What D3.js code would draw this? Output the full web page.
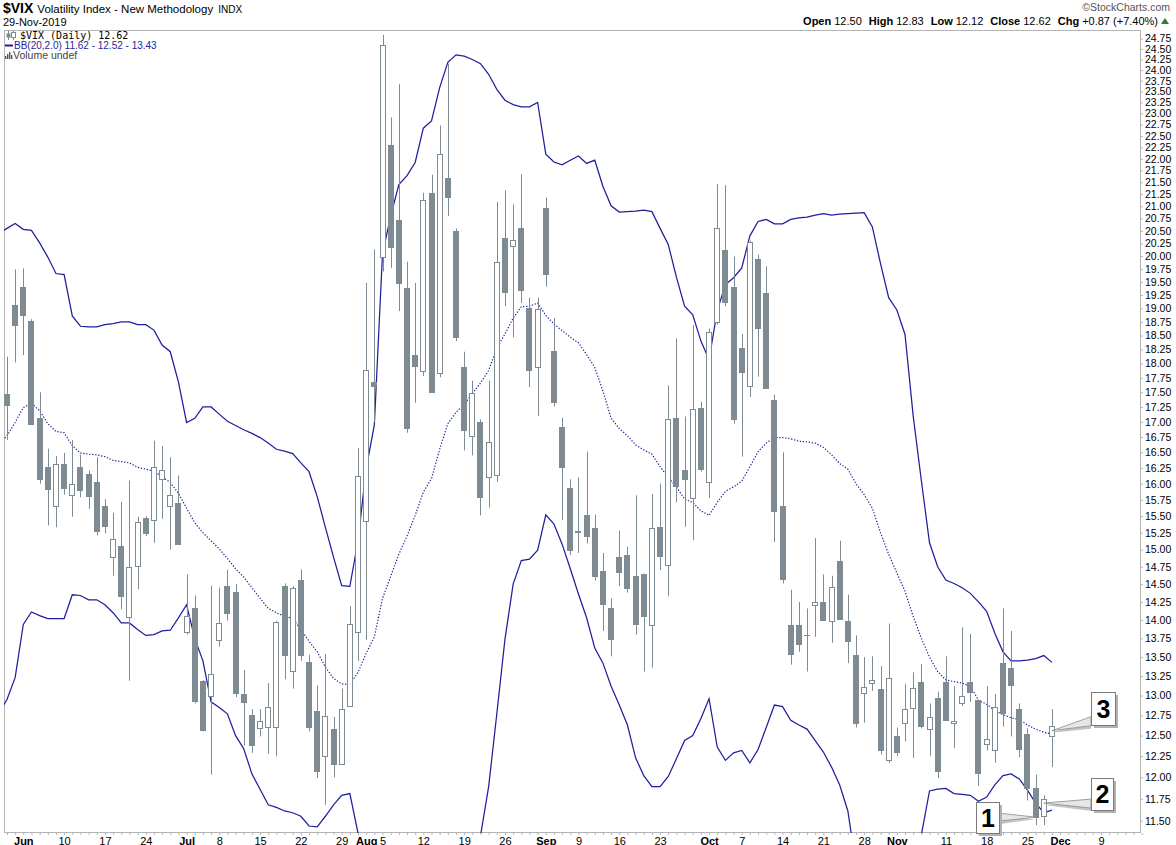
<!DOCTYPE html>
<html><head><meta charset="utf-8">
<script src="https://cdn.jsdelivr.net/npm/d3@7"></script>
<style>
body{margin:0;background:#fff;}
svg{display:block;font-family:"Liberation Sans",Arial,sans-serif;}
</style></head><body>
<svg id="chart" width="1176" height="845"></svg>
<script>
// ---------- DATA ----------
const dates = [
"2019-05-29","2019-05-30","2019-05-31",
"2019-06-03","2019-06-04","2019-06-05","2019-06-06","2019-06-07","2019-06-10","2019-06-11","2019-06-12","2019-06-13","2019-06-14","2019-06-17","2019-06-18","2019-06-19","2019-06-20","2019-06-21","2019-06-24","2019-06-25","2019-06-26","2019-06-27","2019-06-28",
"2019-07-01","2019-07-02","2019-07-03","2019-07-05","2019-07-08","2019-07-09","2019-07-10","2019-07-11","2019-07-12","2019-07-15","2019-07-16","2019-07-17","2019-07-18","2019-07-19","2019-07-22","2019-07-23","2019-07-24","2019-07-25","2019-07-26","2019-07-29","2019-07-30","2019-07-31",
"2019-08-01","2019-08-02","2019-08-05","2019-08-06","2019-08-07","2019-08-08","2019-08-09","2019-08-12","2019-08-13","2019-08-14","2019-08-15","2019-08-16","2019-08-19","2019-08-20","2019-08-21","2019-08-22","2019-08-23","2019-08-26","2019-08-27","2019-08-28","2019-08-29","2019-08-30",
"2019-09-03","2019-09-04","2019-09-05","2019-09-06","2019-09-09","2019-09-10","2019-09-11","2019-09-12","2019-09-13","2019-09-16","2019-09-17","2019-09-18","2019-09-19","2019-09-20","2019-09-23","2019-09-24","2019-09-25","2019-09-26","2019-09-27","2019-09-30",
"2019-10-01","2019-10-02","2019-10-03","2019-10-04","2019-10-07","2019-10-08","2019-10-09","2019-10-10","2019-10-11","2019-10-14","2019-10-15","2019-10-16","2019-10-17","2019-10-18","2019-10-21","2019-10-22","2019-10-23","2019-10-24","2019-10-25","2019-10-28","2019-10-29","2019-10-30","2019-10-31",
"2019-11-01","2019-11-04","2019-11-05","2019-11-06","2019-11-07","2019-11-08","2019-11-11","2019-11-12","2019-11-13","2019-11-14","2019-11-15","2019-11-18","2019-11-19","2019-11-20","2019-11-21","2019-11-22","2019-11-25","2019-11-26","2019-11-27","2019-11-29"];

const futureDates = ["2019-12-02","2019-12-03","2019-12-04","2019-12-05","2019-12-06","2019-12-09","2019-12-10","2019-12-11","2019-12-12","2019-12-13","2019-12-16"];

const open = [17.60,17.47,19.06,
19.41,18.76,17.06,16.26,15.65,16.31,15.83,16.26,16.16,16.02,15.65,14.89,15.05,14.04,14.76,15.47,15.44,16.08,15.66,15.70,
13.84,14.17,13.19,12.99,13.73,14.47,14.39,13.02,12.76,12.59,12.61,12.61,14.47,13.32,14.56,13.43,12.80,12.25,12.58,12.16,12.87,13.84,
15.42,17.68,19.98,22.31,20.72,19.38,18.16,17.87,21.28,17.83,21.59,20.49,17.94,16.77,17.00,16.10,16.14,20.36,20.20,20.55,19.01,17.94,
20.97,18.23,16.92,15.93,15.26,15.52,15.32,14.69,14.16,14.89,14.92,14.61,14.65,13.93,15.34,14.77,17.06,16.22,15.78,17.23,
16.02,18.75,20.11,19.41,18.27,17.61,19.94,19.29,17.36,15.65,13.93,13.93,13.80,14.20,14.25,13.99,14.83,13.98,13.53,13.03,13.16,13.09,12.20,
12.50,12.65,12.84,13.18,12.58,12.97,13.17,12.65,12.91,13.17,12.95,12.40,12.33,13.42,13.36,12.83,12.52,11.88,11.55,12.50];

const high = [18.40,18.12,19.74,
19.76,18.80,17.50,16.56,16.44,16.49,16.70,16.46,16.21,16.42,15.76,15.55,15.72,16.05,15.49,15.50,16.69,16.60,16.42,16.13,
14.64,14.34,13.20,14.48,14.45,14.71,14.50,13.33,12.83,12.83,13.16,13.99,14.51,14.47,14.71,13.53,13.13,13.54,12.73,13.09,14.19,16.57,
19.48,20.13,24.84,22.91,23.67,19.89,19.48,21.28,21.66,22.73,24.15,20.55,18.21,17.70,17.04,17.70,21.09,21.33,21.04,21.67,19.20,19.20,
21.18,18.82,17.07,16.07,16.10,16.51,15.52,14.95,14.30,15.28,15.04,15.82,14.65,15.84,16.00,17.62,18.45,17.09,18.69,17.34,
18.63,21.46,21.44,19.99,18.53,20.30,20.03,19.80,17.46,16.50,14.42,14.25,14.16,15.17,14.64,14.62,15.13,14.35,13.79,13.50,13.51,13.38,13.95,
12.60,13.15,13.30,13.41,12.90,13.05,13.51,13.12,13.90,13.81,12.95,13.12,13.02,14.16,13.85,12.90,12.59,12.03,11.79,12.83];

const low = [17.30,16.70,18.02,
18.15,16.95,16.00,15.36,15.33,15.83,15.49,15.79,15.61,15.21,15.24,14.62,14.15,13.19,14.43,15.20,15.10,15.46,15.00,15.07,
13.80,12.90,12.55,12.03,13.64,13.99,12.98,12.38,12.29,12.49,12.28,12.25,13.21,13.09,13.45,12.55,11.99,11.68,12.00,12.16,12.87,13.45,
13.73,16.99,19.70,19.77,18.95,16.82,17.32,17.78,17.50,17.76,20.80,18.40,16.53,16.45,15.51,15.63,16.03,19.04,18.47,19.10,17.59,17.10,
19.41,17.26,15.44,14.92,14.95,15.09,14.55,13.85,13.51,14.47,14.38,13.80,13.31,13.36,14.70,14.33,15.71,15.34,15.14,16.19,
15.78,18.70,19.04,16.97,16.43,17.42,17.77,17.56,15.11,14.51,13.40,13.57,13.31,13.77,13.99,13.69,14.00,13.42,12.60,12.66,13.06,12.27,12.17,
12.25,12.43,12.23,12.59,12.25,11.99,12.69,12.35,12.87,12.92,11.90,12.32,12.17,12.61,12.49,12.24,11.73,11.45,11.45,12.12];

const close = [17.90,17.29,18.70,
18.87,16.97,16.07,15.92,16.31,15.93,15.99,15.90,15.81,15.28,15.35,15.15,14.33,14.75,15.41,15.25,16.27,16.21,15.82,15.08,
14.06,12.93,12.57,13.28,13.96,14.09,13.03,12.92,12.39,12.68,12.86,13.97,13.53,14.45,13.53,12.61,12.07,12.74,12.16,12.83,13.95,16.12,
17.89,17.61,24.59,20.18,19.48,16.90,17.96,21.12,17.51,22.11,21.19,18.47,16.87,17.49,15.79,16.67,19.88,19.31,20.32,19.34,17.88,18.98,
19.66,17.33,16.27,15.00,15.27,15.20,14.61,14.22,13.74,14.67,14.44,13.95,14.05,15.32,14.91,17.05,15.96,16.07,17.22,16.24,
18.56,20.56,19.12,17.04,17.86,20.28,18.64,17.57,15.58,14.57,13.54,13.68,13.79,14.25,14.00,14.46,14.01,13.71,12.65,13.11,13.20,12.33,13.22,
12.30,12.83,13.10,12.62,12.73,12.07,12.69,12.68,13.00,13.05,12.05,12.46,12.86,12.78,13.14,12.34,11.87,11.54,11.75,12.62];

const bbUpper = [20.44,20.55,20.65,
20.53,20.51,20.26,19.98,19.66,19.64,18.86,18.67,18.66,18.66,18.70,18.72,18.75,18.75,18.70,18.70,18.60,18.33,18.21,17.68,
16.99,17.06,17.25,17.25,17.13,17.01,16.94,16.87,16.81,16.74,16.65,16.55,16.52,16.48,16.33,16.19,15.80,15.33,14.89,14.48,14.47,15.13,
16.24,16.95,20.05,20.80,21.45,21.64,21.92,22.67,22.83,23.59,24.18,24.36,24.33,24.25,24.15,23.90,23.55,23.30,23.20,23.15,23.15,23.25,
22.10,21.93,21.87,21.97,22.06,21.90,21.97,21.41,21.01,20.88,20.89,20.90,20.92,20.89,20.55,20.23,19.59,19.04,18.88,18.40,
18.07,18.96,19.45,19.58,19.77,20.40,20.69,20.73,20.64,20.64,20.73,20.76,20.78,20.82,20.85,20.82,20.84,20.85,20.86,20.87,20.58,19.85,19.20,
18.97,18.52,17.10,16.05,15.10,14.75,14.56,14.51,14.45,14.37,14.25,14.12,13.82,13.57,13.45,13.45,13.46,13.48,13.52,13.43];

const bbMiddle = [16.62,16.77,16.99,
17.24,17.31,17.19,16.97,16.84,16.82,16.61,16.49,16.47,16.46,16.43,16.37,16.35,16.33,16.26,16.23,16.20,16.11,16.02,15.85,
15.62,15.40,15.25,15.13,15.01,14.87,14.72,14.60,14.45,14.30,14.16,14.10,14.05,14.02,13.87,13.71,13.57,13.37,13.22,13.15,13.14,13.30,
13.55,13.77,14.30,14.61,14.93,15.20,15.51,15.87,16.08,16.55,16.97,17.16,17.29,17.48,17.66,17.88,18.27,18.53,18.82,19.03,19.04,19.10,
18.87,18.71,18.59,18.47,18.37,18.16,17.93,17.52,17.06,16.89,16.77,16.62,16.54,16.47,16.27,16.10,15.95,15.76,15.71,15.58,
15.51,15.71,15.88,15.95,16.04,16.27,16.51,16.65,16.74,16.74,16.72,16.68,16.67,16.65,16.58,16.46,16.32,16.23,16.00,15.83,15.62,15.25,14.93,
14.66,14.40,14.05,13.75,13.50,13.31,13.20,13.18,13.16,13.12,12.94,12.89,12.81,12.76,12.72,12.70,12.63,12.58,12.54,12.52];

const bbLower = [12.78,12.95,13.23,
13.94,14.11,14.06,14.02,14.02,14.02,14.35,14.34,14.28,14.28,14.21,14.10,13.96,13.96,13.87,13.79,13.80,13.85,13.86,14.03,
14.21,13.75,13.45,12.92,12.85,12.77,12.50,12.34,12.04,11.86,11.68,11.65,11.61,11.59,11.55,11.44,11.43,11.55,11.68,11.79,11.81,11.36,
10.85,10.54,8.58,8.35,8.40,8.60,8.80,9.00,9.30,9.50,9.80,10.20,10.60,10.90,11.33,11.89,12.77,13.74,14.50,14.84,14.86,14.99,
15.52,15.38,15.08,14.72,14.36,14.03,13.62,13.42,13.12,12.88,12.63,12.23,12.02,11.89,11.89,12.01,12.22,12.44,12.50,12.71,
12.96,12.36,12.20,12.29,12.32,12.17,12.33,12.60,12.88,12.86,12.69,12.63,12.58,12.44,12.30,12.12,11.91,11.61,11.00,10.80,10.60,10.55,10.56,
10.30,10.25,10.87,11.34,11.84,11.86,11.87,11.81,11.80,11.79,11.72,11.77,11.91,12.02,12.04,11.98,11.85,11.70,11.59,11.62];

const xTickDates  = ["2019-06-03","2019-06-10","2019-06-17","2019-06-24","2019-07-01","2019-07-08","2019-07-15","2019-07-22","2019-07-29","2019-08-01","2019-08-05","2019-08-12","2019-08-19","2019-08-26","2019-09-03","2019-09-09","2019-09-16","2019-09-23","2019-10-01","2019-10-07","2019-10-14","2019-10-21","2019-10-28","2019-11-01","2019-11-11","2019-11-18","2019-11-25","2019-12-02","2019-12-09"];
const xTickLabels = ["Jun","10","17","24","Jul","8","15","22","29","Aug","5","12","19","26","Sep","9","16","23","Oct","7","14","21","28","Nov","11","18","25","Dec","9"];
const monthLabels = ["Jun","Jul","Aug","Sep","Oct","Nov","Dec"];

const yTickLabels = ["11.50","11.75","12.00","12.25","12.50","12.75","13.00","13.25","13.50","13.75","14.00","14.25","14.50","14.75","15.00","15.25","15.50","15.75","16.00","16.25","16.50","16.75","17.00","17.25","17.50","17.75","18.00","18.25","18.50","18.75","19.00","19.25","19.50","19.75","20.00","20.25","20.50","20.75","21.00","21.25","21.50","21.75","22.00","22.25","22.50","22.75","23.00","23.25","23.50","23.75","24.00","24.25","24.50","24.75"];

// callouts: date, price anchor, label
const calloutDates  = ["2019-11-26","2019-11-27","2019-11-29"];
const calloutPrices = [11.54, 11.70, 12.56];
const calloutLabels = ["1","2","3"];

// ---------- LAYOUT ----------
const svg = d3.select("#chart");
const plot = {left:4, top:30, right:1141, bottom:833};
const candleColor = "#7f8b93";
const bandColor = "#1f1f9c";

const allDays = dates.concat(futureDates);
const x = d3.scaleLinear().domain([0, allDays.length-1]).range([-1.19, -1.19 + 8.164*(allDays.length-1)]);
const y = d3.scaleLog().domain([11.362, 24.96]).range([plot.bottom, plot.top]);
const xi = d => allDays.indexOf(d);

svg.append("defs").append("clipPath").attr("id","clip")
  .append("rect").attr("x",plot.left).attr("y",plot.top)
  .attr("width",plot.right-plot.left).attr("height",plot.bottom-plot.top);

// frame
svg.append("rect").attr("x",plot.left+0.5).attr("y",plot.top+0.5)
  .attr("width",plot.right-plot.left-1).attr("height",plot.bottom-plot.top-1)
  .attr("fill","none").attr("stroke","#b4b4b4");

const g = svg.append("g").attr("clip-path","url(#clip)");

// bands
const line = d3.line().x((d,i)=>x(i)).y(d=>y(d));
g.append("path").attr("d",line(bbUpper)).attr("fill","none").attr("stroke",bandColor).attr("stroke-width",1.25);
g.append("path").attr("d",line(bbLower)).attr("fill","none").attr("stroke",bandColor).attr("stroke-width",1.25);
g.append("path").attr("d",line(bbMiddle)).attr("fill","none").attr("stroke",bandColor).attr("stroke-width",1.2).attr("stroke-dasharray","1.3,1.7");

// candles
const rows = dates.map((d,i)=>({i,o:open[i],h:high[i],l:low[i],c:close[i]}));
const cx = d => Math.round(x(d.i));
g.selectAll("line.wick").data(rows).join("line").attr("class","wick")
  .attr("x1",d=>cx(d)+0.5).attr("x2",d=>cx(d)+0.5)
  .attr("y1",d=>y(d.h)).attr("y2",d=>y(d.l))
  .attr("stroke",candleColor).attr("stroke-width",1);
g.selectAll("rect.body").data(rows).join("rect").attr("class","body")
  .attr("x",d=>cx(d)-2.5).attr("width",5)
  .attr("y",d=>Math.round(y(Math.max(d.o,d.c)))+0.5)
  .attr("height",d=>Math.max(0.01,Math.round(y(Math.min(d.o,d.c)))-Math.round(y(Math.max(d.o,d.c)))))
  .attr("fill",d=>d.c>d.o?"#ffffff":candleColor)
  .attr("stroke",candleColor).attr("stroke-width",1);

// ---------- AXES ----------
const xTickIdx = xTickDates.map(xi);
const xAxis = d3.axisBottom(x).tickValues(xTickIdx).tickFormat((d,i)=>xTickLabels[i]).tickSize(0).tickPadding(0);
const xa = svg.append("g").attr("transform",`translate(0,${plot.bottom})`).call(xAxis);
xa.select(".domain").remove();
xa.selectAll("text").attr("dy",null).attr("y",11.5).attr("fill","#000")
  .style("font-size","11px").style("font-family","'Liberation Sans',Arial,sans-serif")
  .style("font-weight",(d,i)=>monthLabels.includes(xTickLabels[i])?"bold":"normal");
// minor day ticks
const xm = svg.append("g").attr("transform",`translate(0,${plot.bottom})`)
  .call(d3.axisBottom(x).tickValues(d3.range(1, allDays.length)).tickFormat("").tickSize(2));
xm.select(".domain").remove();
xm.selectAll("line").attr("stroke","#b4b4b4");

const yVals = yTickLabels.map(Number);
const yAxis = d3.axisRight(y).tickValues(yVals).tickFormat((d,i)=>yTickLabels[i]).tickSize(2).tickPadding(2);
const ya = svg.append("g").attr("transform",`translate(${plot.right},0)`).call(yAxis);
ya.select(".domain").remove();
ya.selectAll("line").attr("stroke","#b4b4b4");
ya.selectAll("text").attr("fill","#000").style("font-size","10.5px").style("font-family","'Liberation Sans',Arial,sans-serif");

// ---------- CALLOUTS ----------
const boxes = [
  {dx:-60, dy:-15, w:23, h:31, side:"right", base:[-4,4]},
  {dx:47, dy:-25, w:22, h:32, side:"left", base:[-4,5]},
  {dx:39, dy:-39, w:24, h:33, side:"left", base:[-14,-5]}
];
calloutDates.forEach((d,k)=>{
  const ax = x(xi(d)), ay = y(calloutPrices[k]);
  const b = boxes[k];
  const bx = Math.round(ax + b.dx), by = Math.round(ay + b.dy);
  const ex = b.side==="right" ? bx + b.w : bx;
  const cg = svg.append("g");
  cg.append("path").attr("d",`M${ax},${ay+2} L${ex},${ay+b.base[0]+3} L${ex},${ay+b.base[1]+3} Z`).attr("fill","#c4c4c4");
  cg.append("path").attr("d",`M${ax},${ay} L${ex},${ay+b.base[0]} L${ex},${ay+b.base[1]} Z`).attr("fill","#e6e6e6").attr("stroke","#8c8c8c").attr("stroke-width",0.8);
  cg.append("rect").attr("x",bx+3).attr("y",by+3).attr("width",b.w).attr("height",b.h).attr("fill","#b2b2b2");
  cg.append("rect").attr("x",bx+0.5).attr("y",by+0.5).attr("width",b.w).attr("height",b.h).attr("fill","#fff").attr("stroke","#7a7a7a");
  cg.append("text").attr("x",bx+b.w/2+0.5).attr("y",by+b.h/2+9).attr("text-anchor","middle")
    .style("font-size","25px").style("font-weight","bold").attr("fill","#000").text(calloutLabels[k]);
});

// ---------- HEADER ----------
const t1 = svg.append("text").attr("x",3).attr("y",13).attr("fill","#000");
t1.append("tspan").style("font-weight","bold").style("font-size","14px").text("$VIX");
t1.append("tspan").attr("dx",4).style("font-size","11.5px").text("Volatility Index - New Methodology");
t1.append("tspan").attr("dx",5).style("font-size","10px").text("INDX");
svg.append("text").attr("x",3).attr("y",26).style("font-size","11px").attr("fill","#000").text("29-Nov-2019");

svg.append("text").attr("x",1170).attr("y",11).attr("text-anchor","end").style("font-size","10.5px").attr("fill","#555").text("\u00A9StockCharts.com");
const oh = svg.append("text").attr("x",1158).attr("y",25).attr("text-anchor","end").style("font-size","11px").attr("fill","#000");
const ohlc = [["Open","12.50"],["High","12.83"],["Low","12.12"],["Close","12.62"],["Chg","+0.87 (+7.40%)"]];
ohlc.forEach((p,k)=>{
  oh.append("tspan").attr("dx",k?7:0).style("font-weight","bold").text(p[0]);
  oh.append("tspan").attr("dx",3).text(p[1]);
});
svg.append("path").attr("d","M1161,24 L1165,18 L1169,24 Z").attr("fill","#2e7d32");

// legend
const lg = svg.append("g");
lg.append("line").attr("x1",8.5).attr("x2",8.5).attr("y1",31).attr("y2",40).attr("stroke",candleColor);
lg.append("rect").attr("x",6.5).attr("y",33.5).attr("width",4).attr("height",4).attr("fill",candleColor);
lg.append("line").attr("x1",13.5).attr("x2",13.5).attr("y1",31).attr("y2",40).attr("stroke",candleColor);
lg.append("rect").attr("x",11.5).attr("y",32.5).attr("width",4).attr("height",5).attr("fill","#fff").attr("stroke",candleColor);
lg.append("text").attr("x",20).attr("y",39).style("font-family","'DejaVu Sans Mono',monospace").style("font-size","10px").attr("fill","#000").text("$VIX (Daily) 12.62");
lg.append("line").attr("x1",5).attr("x2",13).attr("y1",45.5).attr("y2",45.5).attr("stroke",bandColor).attr("stroke-width",2);
lg.append("text").attr("x",14).attr("y",49).style("font-size","10px").attr("fill",bandColor).text("BB(20,2.0) 11.62 - 12.52 - 13.43");
[[5,3],[7,5],[9,7],[11,4]].forEach(b=>{
  lg.append("rect").attr("x",b[0]).attr("y",59-b[1]).attr("width",1.4).attr("height",b[1]).attr("fill","#555");
});
lg.append("text").attr("x",13).attr("y",59).style("font-size","10.5px").attr("fill","#444").text("Volume undef");
</script>
</body></html>
